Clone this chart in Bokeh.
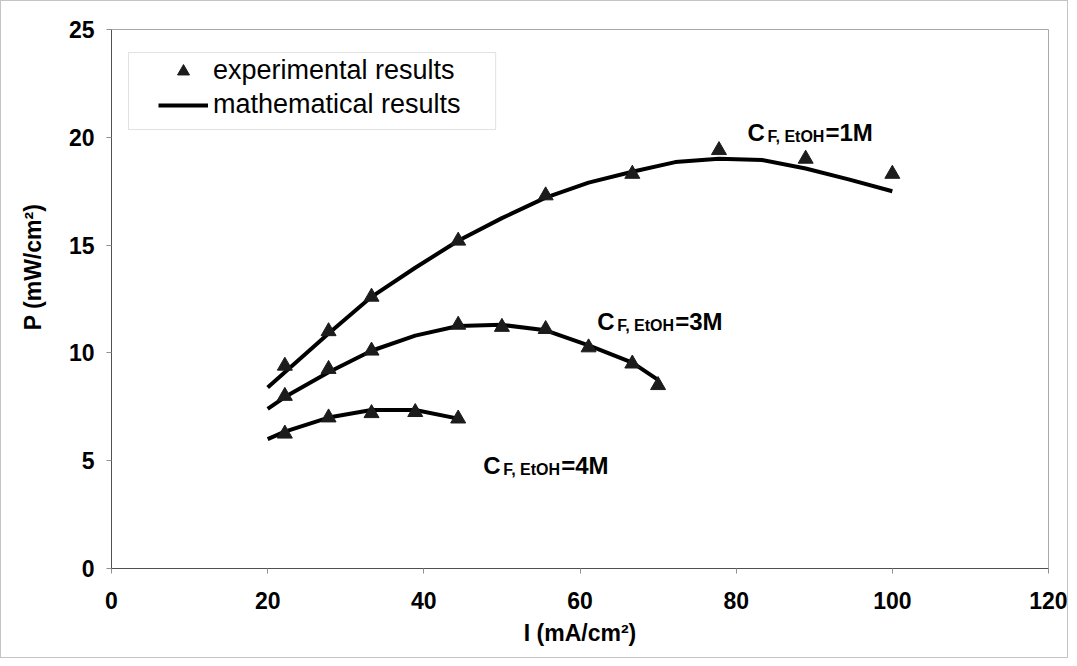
import math
from bokeh.plotting import figure
from bokeh.models import Range1d, FixedTicker, BoxAnnotation, Legend, LegendItem
from bokeh.core.properties import value
from bokeh.embed import file_html
from bokeh.resources import INLINE

# ---- data ----
x_ticks = [0, 20, 40, 60, 80, 100, 120]
y_ticks = [0, 5, 10, 15, 20, 25]

exp_1M_I = [22.2, 27.8, 33.3, 44.4, 55.6, 66.7, 77.8, 88.9, 100.0]
exp_1M_P = [9.4, 11.0, 12.6, 15.2, 17.3, 18.3, 19.4, 19.0, 18.3]
exp_3M_I = [22.2, 27.8, 33.3, 44.4, 50.0, 55.6, 61.1, 66.7, 70.0]
exp_3M_P = [8.0, 9.25, 10.1, 11.3, 11.2, 11.1, 10.25, 9.5, 8.5]
exp_4M_I = [22.2, 27.8, 33.3, 38.9, 44.4]
exp_4M_P = [6.25, 7.0, 7.2, 7.25, 6.95]

mod_1M_I = [20, 22.2, 27.8, 33.3, 38.9, 44.4, 50, 55.6, 61.1, 66.7, 72.2, 77.8, 83.3, 88.9, 94.4, 100]
mod_1M_P = [8.4, 9.1, 10.9, 12.6, 13.95, 15.2, 16.25, 17.2, 17.9, 18.4, 18.85, 19.0, 18.95, 18.55, 18.05, 17.5]
mod_3M_I = [20, 22.2, 27.8, 33.3, 38.9, 44.4, 50, 55.6, 61.1, 66.7, 70]
mod_3M_P = [7.4, 7.95, 9.1, 10.1, 10.8, 11.25, 11.3, 11.05, 10.35, 9.55, 8.75]
mod_4M_I = [20, 22.2, 27.8, 33.3, 38.9, 44.4]
mod_4M_P = [6.0, 6.35, 7.0, 7.35, 7.35, 6.95]

concentrations = ["1M", "3M", "4M"]
legend_labels = ["experimental results", "mathematical results"]
x_title = "I (mA/cm²)"
y_title = "P (mW/cm²)"

FONT = "Liberation Sans"
W, H = 1068, 658

p = figure(width=W, height=H,
           x_range=Range1d(0, 120), y_range=Range1d(0, 25),
           output_backend="svg", toolbar_location=None,
           min_border_left=110, min_border_right=21,
           min_border_top=28, min_border_bottom=91)
p.styles = {"border": "1px solid #c4c4c4"}
p.background_fill_color = "white"
p.border_fill_color = "white"
p.xgrid.visible = False
p.ygrid.visible = False
p.outline_line_color = "#a8a8a8"
p.outline_line_width = 1

p.xaxis.ticker = FixedTicker(ticks=x_ticks)
p.yaxis.ticker = FixedTicker(ticks=y_ticks)
for ax in (p.xaxis, p.yaxis):
    ax.axis_line_color = "#505050"
    ax.axis_line_width = 1
    ax.major_tick_line_color = "#909090"
    ax.major_tick_out = 5
    ax.major_tick_in = 0
    ax.minor_tick_line_color = None
    ax.major_label_text_font = FONT
    ax.major_label_text_font_style = "bold"
    ax.major_label_text_font_size = "23px"
    ax.major_label_text_color = "black"
    ax.axis_label_text_font = FONT
    ax.axis_label_text_font_style = "bold"
    ax.axis_label_text_font_size = "23px"
    ax.axis_label_text_color = "black"
p.yaxis.major_label_standoff = 12
p.xaxis.major_label_standoff = 18

p.xaxis.axis_label = x_title
p.xaxis.axis_label_standoff = 8
# leading no-break spaces lift the rotated title above the frame centre, as in the reference
p.yaxis.axis_label = "\u00a0" * 10 + y_title
p.yaxis.axis_label_standoff = 20

# model curves
line_kw = dict(line_width=4, line_color="black")
r_l1 = p.line(mod_1M_I, mod_1M_P, **line_kw)
p.line(mod_3M_I, mod_3M_P, **line_kw)
p.line(mod_4M_I, mod_4M_P, **line_kw)

# experimental points
sc_kw = dict(marker="triangle", size=15, fill_color="#1c1c1c", line_color="#1c1c1c")
r_s1 = p.scatter(exp_1M_I, exp_1M_P, **sc_kw)
p.scatter(exp_3M_I, exp_3M_P, **sc_kw)
p.scatter(exp_4M_I, exp_4M_P, **sc_kw)

# curve labels C_{F, EtOH}=...
anchors = [(81.45, 20.2), (62.2, 11.45), (47.6, 4.78)]
for (ax_, ay_), conc in zip(anchors, concentrations):
    p.text(x=[ax_], y=[ay_], text=["C"], text_font=value(FONT), text_font_style="bold",
           text_font_size="24px", text_baseline="alphabetic", text_color="black")
    p.text(x=[ax_], y=[ay_], text=["F, EtOH"], x_offset=20, y_offset=4,
           text_font=value(FONT), text_font_style="bold",
           text_font_size="16px", text_baseline="alphabetic", text_color="black")
    p.text(x=[ax_], y=[ay_], text=["=" + conc], x_offset=78,
           text_font=value(FONT), text_font_style="bold",
           text_font_size="24px", text_baseline="alphabetic", text_color="black")

# legend frame
p.add_layout(BoxAnnotation(left=2.18, right=49.2, bottom=20.36, top=23.93,
                           fill_alpha=0, line_color="#9a9a9a", line_width=1))

legend = Legend(items=[LegendItem(label=legend_labels[0], renderers=[r_s1]),
                       LegendItem(label=legend_labels[1], renderers=[r_l1])],
                location=(42, 443), padding=5, spacing=3,
                glyph_width=50, glyph_height=30, label_height=30, label_standoff=5,
                border_line_alpha=0, background_fill_alpha=0,
                label_text_font=FONT, label_text_font_size="27px",
                label_text_color="black")
p.add_layout(legend)

open("out.html", "w").write(file_html(p, INLINE))
